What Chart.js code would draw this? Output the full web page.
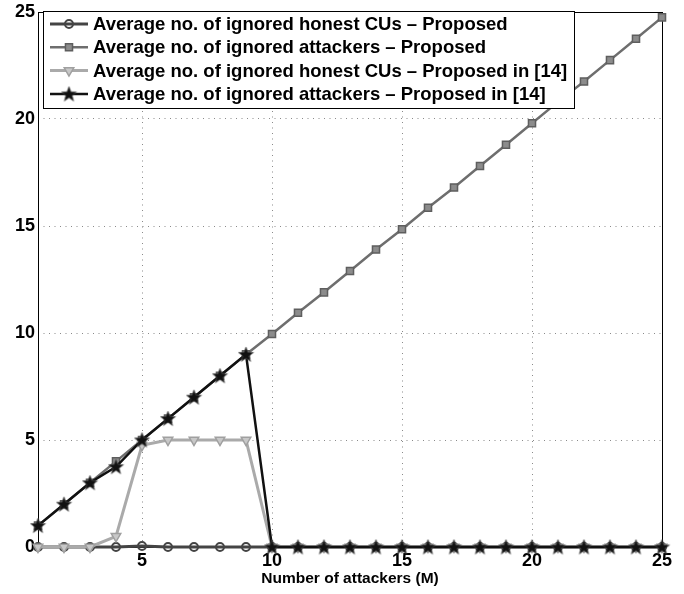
<!DOCTYPE html>
<html>
<head>
<meta charset="utf-8">
<script src="https://cdn.jsdelivr.net/npm/chart.js@4/dist/chart.umd.min.js"></script>
<style>
  html, body { margin: 0; padding: 0; background: #fff; }
  #wrap { width: 684px; height: 594px; }
</style>
</head>
<body>
<div id="wrap"><canvas id="chart" width="684" height="594"></canvas></div>
<script>
const attackers = [1, 2, 3, 4, 5, 6, 7, 8, 9, 10, 11, 12, 13, 14, 15, 16, 17, 18, 19, 20, 21, 22, 23, 24, 25];

const honestProposed = [0, 0, 0, 0, 0.05, 0, 0, 0, 0, 0, 0, 0, 0, 0, 0, 0, 0, 0, 0, 0, 0, 0, 0, 0, 0];
const attackersProposed = [1, 2, 3, 4, 5, 6, 7, 8, 9, 9.95, 10.95, 11.9, 12.9, 13.9, 14.85, 15.85, 16.8, 17.8, 18.8, 19.8, 20.8, 21.75, 22.75, 23.75, 24.75];
const honestRef14 = [0, 0, 0, 0.5, 4.75, 5, 5, 5, 5, 0, 0, 0, 0, 0, 0, 0, 0, 0, 0, 0, 0, 0, 0, 0, 0];
const attackersRef14 = [1, 2, 3, 3.75, 5, 6, 7, 8, 9, 0, 0, 0, 0, 0, 0, 0, 0, 0, 0, 0, 0, 0, 0, 0, 0];

const xTicks = [5, 10, 15, 20, 25];
const yTicks = [0, 5, 10, 15, 20, 25];

const seriesNames = [
    "Average no. of ignored honest CUs \u2013 Proposed",
    "Average no. of ignored attackers \u2013 Proposed",
    "Average no. of ignored honest CUs \u2013 Proposed in [14]",
    "Average no. of ignored attackers \u2013 Proposed in [14]"
];

const FONT = "'Liberation Sans', Arial, Helvetica, sans-serif";

// filled five-point star used as marker
function makeStar(size, color) {
    const c = document.createElement("canvas");
    c.width = size;
    c.height = size;
    const g = c.getContext("2d");
    const cx = size / 2, cy = size / 2 + 0.5;
    const outer = size / 2 - 0.5, inner = outer * 0.42;
    g.beginPath();
    for (let i = 0; i < 10; i++) {
        const r = i % 2 === 0 ? outer : inner;
        const a = -Math.PI / 2 + i * Math.PI / 5;
        g.lineTo(cx + r * Math.cos(a), cy + r * Math.sin(a));
    }
    g.closePath();
    g.fillStyle = color;
    g.fill();
    g.strokeStyle = "#555";
    g.lineWidth = 0.6;
    g.stroke();
    return c;
}

const star = makeStar(17, "#111");

function points(ys) {
    return attackers.map((x, i) => ({ x: x, y: ys[i] }));
}

const datasets = [
    {
        label: seriesNames[0],
        data: points(honestProposed),
        borderColor: "#444",
        borderWidth: 3,
        pointStyle: "circle",
        pointRadius: 4,
        pointBorderWidth: 2,
        pointBorderColor: "#444",
        pointBackgroundColor: "rgba(0,0,0,0)",
        order: 4
    },
    {
        label: seriesNames[1],
        data: points(attackersProposed),
        borderColor: "#6e6e6e",
        borderWidth: 2.5,
        pointStyle: "rect",
        pointRadius: 5,
        pointBorderWidth: 1.5,
        pointBorderColor: "#5e5e5e",
        pointBackgroundColor: "#8c8c8c",
        order: 3
    },
    {
        label: seriesNames[2],
        data: points(honestRef14),
        borderColor: "#aaa",
        borderWidth: 3,
        pointStyle: "triangle",
        pointRotation: 180,
        pointRadius: 5.5,
        pointBorderWidth: 1.5,
        pointBorderColor: "#a0a0a0",
        pointBackgroundColor: "#c8c8c8",
        order: 2
    },
    {
        label: seriesNames[3],
        data: points(attackersRef14),
        borderColor: "#111",
        borderWidth: 2.5,
        pointStyle: star,
        pointRadius: 8,
        order: 1
    }
];

// legend box inside the plot, upper left
const boxLegend = {
    id: "boxLegend",
    afterDraw(chart) {
        const ctx = chart.ctx;
        const left = 43, top = 11, right = 574, bottom = 108;
        ctx.save();
        ctx.fillStyle = "#fff";
        ctx.fillRect(left, top, right - left, bottom - top);
        ctx.strokeStyle = "#000";
        ctx.lineWidth = 1;
        ctx.strokeRect(left + 0.5, top + 0.5, right - left, bottom - top);

        const rows = [24, 47.3, 70.6, 94];
        ctx.font = "bold 18.5px " + FONT;
        ctx.textBaseline = "middle";
        ctx.textAlign = "left";
        datasets.forEach((ds, i) => {
            const y = rows[i];
            ctx.strokeStyle = ds.borderColor;
            ctx.lineWidth = ds.borderWidth;
            ctx.beginPath();
            ctx.moveTo(50, y);
            ctx.lineTo(88, y);
            ctx.stroke();
            ctx.strokeStyle = ds.pointBorderColor || ds.borderColor;
            ctx.fillStyle = ds.pointBackgroundColor || ds.borderColor;
            ctx.lineWidth = ds.pointBorderWidth || 1;
            Chart.helpers.drawPoint(ctx, {
                pointStyle: ds.pointStyle,
                rotation: ds.pointRotation || 0,
                radius: ds.pointRadius,
                borderWidth: ds.pointBorderWidth || 1
            }, 69, y);
            ctx.fillStyle = "#000";
            ctx.fillText(ds.label, 93, y + 1);
        });
        ctx.restore();
    }
};

// solid box around the plot area, over the dotted grid
const axesBox = {
    id: "axesBox",
    beforeDatasetsDraw(chart) {
        const a = chart.chartArea;
        const ctx = chart.ctx;
        const l = Math.round(a.left) + 0.5, t = Math.round(a.top) + 0.5;
        const r = Math.round(a.right) + 0.5, b = Math.round(a.bottom) + 0.5;
        ctx.save();
        ctx.setLineDash([]);
        ctx.strokeStyle = "#000";
        ctx.lineWidth = 1;
        ctx.strokeRect(l, t, r - l, b - t);
        ctx.restore();
    }
};

const gridStyle = { color: "#8a8a8a", lineWidth: 1, drawTicks: false };
const borderStyle = { display: false, dash: [1, 4.5] };

new Chart(document.getElementById("chart"), {
    type: "line",
    data: { datasets: datasets },
    plugins: [axesBox, boxLegend],
    options: {
        responsive: false,
        animation: false,
        clip: false,
        layout: { padding: { left: 0, right: 22, top: 10, bottom: 0 } },
        elements: { line: { tension: 0 } },
        plugins: {
            legend: { display: false },
            tooltip: { enabled: false }
        },
        scales: {
            x: {
                type: "linear",
                min: 1,
                max: 25,
                afterBuildTicks: s => { s.ticks = xTicks.map(v => ({ value: v })); },
                afterFit: s => { s.height = 47; },
                grid: gridStyle,
                border: borderStyle,
                ticks: {
                    color: "#000",
                    padding: 5,
                    maxRotation: 0,
                    font: { family: FONT, size: 18, weight: "bold", lineHeight: 1 }
                },
                title: {
                    display: true,
                    text: "Number of attackers (M)",
                    color: "#000",
                    padding: { top: 2, bottom: 6 },
                    font: { family: FONT, size: 15.5, weight: "bold" }
                }
            },
            y: {
                min: 0,
                max: 25,
                afterBuildTicks: s => { s.ticks = yTicks.map(v => ({ value: v })); },
                afterFit: s => { s.width = 38; },
                grid: gridStyle,
                border: borderStyle,
                ticks: {
                    color: "#000",
                    padding: 3,
                    font: { family: FONT, size: 18, weight: "bold", lineHeight: 1 }
                }
            }
        }
    }
});
</script>
</body>
</html>
